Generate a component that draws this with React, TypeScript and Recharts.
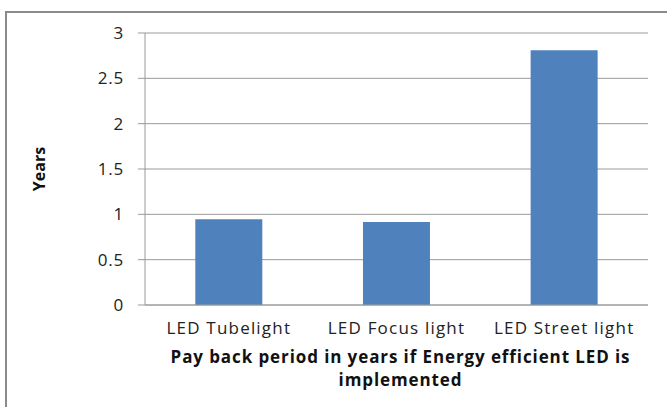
import React from "react";
import { BarChart, Bar, XAxis, YAxis, CartesianGrid } from "recharts";

const categories = ["LED Tubelight", "LED Focus light", "LED Street light"];
const paybackYears = [0.945, 0.915, 2.81];
const yTicks = [0, 0.5, 1, 1.5, 2, 2.5, 3];

const chartData = categories.map((name, i) => ({ name, years: paybackYears[i] }));

const FONT = "'Open Sans', 'Noto Sans', sans-serif";

const XTitle = (props: any) => {
  const { viewBox } = props;
  const cx = viewBox.x + viewBox.width / 2 + 4;
  return (
    <text
      x={cx}
      y={viewBox.y + 58}
      textAnchor="middle"
      fontFamily={FONT}
      fontWeight="bold"
      fontSize={17}
      letterSpacing={0.9}
      fill="#111"
    >
      <tspan x={cx}>Pay back period in years if Energy efficient LED is</tspan>
      <tspan x={cx} dy={23}>
        implemented
      </tspan>
    </text>
  );
};

const xTickStyle = { fontSize: 17, fill: "#222", fontFamily: FONT, letterSpacing: 1.2 };
const yTickStyle = { fontSize: 17, fill: "#222", fontFamily: FONT, letterSpacing: 0.8 };

export default function App() {
  return (
    <div
      style={{
        position: "absolute",
        left: 0,
        top: 0,
        width: 667,
        height: 407,
        background: "#fff",
        overflow: "hidden",
      }}
    >
      <div
        style={{
          position: "absolute",
          left: 5,
          top: 11,
          width: 700,
          height: 450,
          border: "2px solid #8a8a8a",
        }}
      />
      <BarChart
        width={667}
        height={407}
        data={chartData}
        margin={{ top: 33, right: 19, left: 0, bottom: 72 }}
        barCategoryGap="30%"
        style={{ position: "absolute", left: 0, top: 0 }}
      >
        <CartesianGrid vertical={false} stroke="#9a9a9a" />
        <XAxis
          dataKey="name"
          height={30}
          tickLine={false}
          tickSize={0}
          tickMargin={17}
          axisLine={{ stroke: "#9a9a9a" }}
          tick={xTickStyle}
          interval={0}
          label={<XTitle />}
        />
        <YAxis
          width={145}
          domain={[0, 3]}
          ticks={yTicks}
          tickSize={7}
          tickMargin={14}
          axisLine={{ stroke: "#9a9a9a" }}
          tickLine={{ stroke: "#9a9a9a" }}
          tick={yTickStyle}
          label={{
            value: "Years",
            angle: -90,
            position: "insideLeft",
            offset: 39,
            style: {
              fontSize: 16,
              fontWeight: "bold",
              fontFamily: FONT,
              fill: "#111",
              textAnchor: "middle",
            },
          }}
        />
        <Bar dataKey="years" fill="#4F81BD" isAnimationActive={false} />
      </BarChart>
    </div>
  );
}
